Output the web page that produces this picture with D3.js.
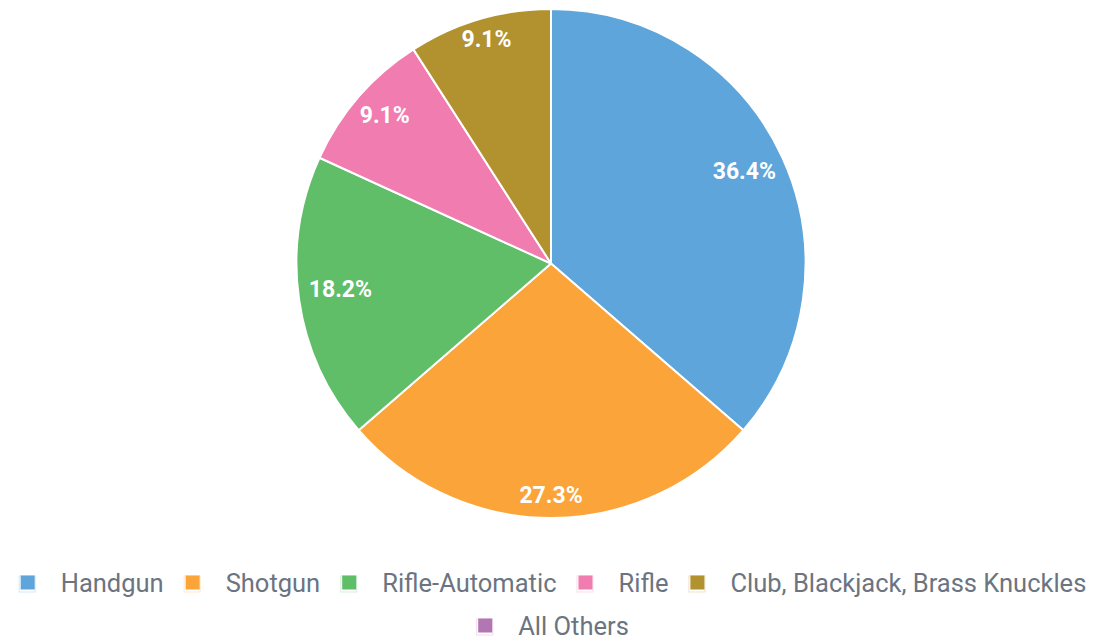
<!DOCTYPE html>
<html>
<head>
<meta charset="utf-8">
<script src="https://cdn.jsdelivr.net/npm/d3@7"></script>
<style>
  html, body { margin: 0; padding: 0; background: #fff; }
  svg { display: block; font-family: Roboto, "Noto Sans", sans-serif; }
</style>
</head>
<body>
<svg id="chart" width="1119" height="643"></svg>
<script>
const categories = ["Handgun", "Shotgun", "Rifle-Automatic", "Rifle", "Club, Blackjack, Brass Knuckles", "All Others"];
const values = [4, 3, 2, 1, 1, 0];
const colors = ["#5DA5DA", "#FAA43A", "#60BD68", "#F17CB0", "#B2912F", "#B276B2"];

const svg = d3.select("#chart");
const cx = 551, cy = 263.5, R = 254.5;
const total = d3.sum(values);

const pie = d3.pie().sort(null).value(d => d.v).startAngle(0).endAngle(2 * Math.PI);
const data = categories.map((c, i) => ({ c, v: values[i], col: colors[i] }));
const arcs = pie(data);
const arc = d3.arc().innerRadius(0).outerRadius(R);

const g = svg.append("g").attr("transform", `translate(${cx},${cy})`);
g.selectAll("path.slice").data(arcs.filter(a => a.data.v > 0)).join("path")
  .attr("class", "slice")
  .attr("d", arc)
  .attr("fill", d => d.data.col)
  .attr("stroke", "#fff")
  .attr("stroke-width", 2)
  .attr("stroke-linejoin", "round");

// percentage labels
const fmt = v => (v / total * 100).toFixed(1) + "%";
g.selectAll("text.pct").data(arcs.filter(a => a.data.v > 0)).join("text")
  .attr("class", "pct")
  .attr("text-anchor", "middle")
  .attr("dominant-baseline", "central")
  .attr("fill", "#fff")
  .attr("font-size", 23)
  .attr("font-weight", "bold")
  .text(d => fmt(d.data.v))
  .each(function(d) {
    const w = this.getComputedTextLength();
    const h = 20;
    const a = (d.startAngle + d.endAngle) / 2;
    const ux = Math.sin(a), uy = -Math.cos(a);
    const support = Math.abs(ux) * w / 2 + Math.abs(uy) * h / 2;
    const dist = R - 9 - support;
    d3.select(this).attr("x", ux * dist).attr("y", uy * dist - 4);
  });

// legend
const legendRows = [[0, 1, 2, 3, 4], [5]];
const rowY = [583, 626];
const boxS = 15, gapBT = 25, gapItem = 22, legendCenter = 553.5;
const legend = svg.append("g");
legendRows.forEach((row, ri) => {
  const items = row.map(i => {
    const t = legend.append("text")
      .attr("font-size", 25.5)
      .attr("fill", "#6b7480")
      .attr("dominant-baseline", "central")
      .text(categories[i]);
    return { i, t, w: t.node().getComputedTextLength() };
  });
  const width = d3.sum(items, d => boxS + gapBT + d.w) + gapItem * (items.length - 1);
  let x = legendCenter - width / 2;
  items.forEach(it => {
    legend.append("rect")
      .attr("x", x - 1.5).attr("y", rowY[ri] - boxS / 2 + 0.5)
      .attr("width", boxS + 1).attr("height", boxS + 1)
      .attr("fill", "none")
      .attr("stroke", colors[it.i])
      .attr("stroke-opacity", 0.25)
      .attr("stroke-width", 1);
    legend.append("rect")
      .attr("x", x).attr("y", rowY[ri] - boxS / 2)
      .attr("width", boxS - 1).attr("height", boxS - 1)
      .attr("fill", colors[it.i]);
    it.t.attr("x", x + boxS + gapBT).attr("y", rowY[ri]);
    x += boxS + gapBT + it.w + gapItem;
  });
});
</script>
</body>
</html>
